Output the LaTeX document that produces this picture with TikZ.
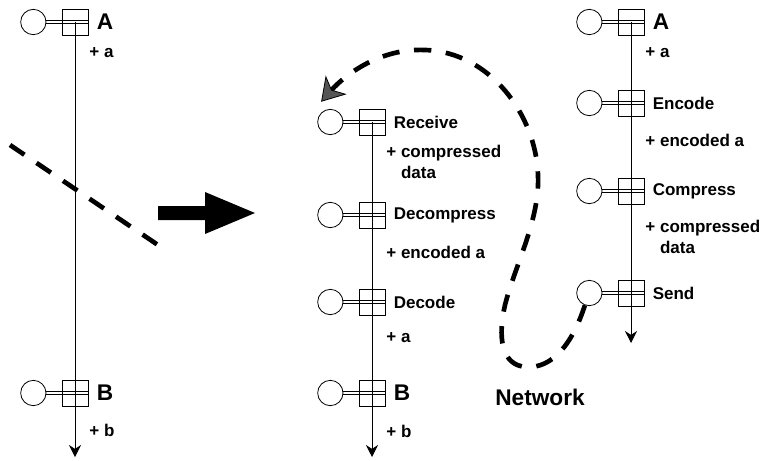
\documentclass[tikz,border=0pt]{standalone}
\usepackage{fontspec}
\setmainfont{Liberation Sans}
\usetikzlibrary{arrows.meta,calc,positioning}
\definecolor{tipgray}{RGB}{85,85,85}

\begin{document}
\begin{tikzpicture}[x=0.75pt,y=-0.75pt,>=Stealth,line width=0.6pt,node distance=5pt,
  obj/.style={circle,draw,minimum size=19pt,inner sep=0pt},
  ctrl/.style={rectangle,draw,minimum size=19.5pt,inner sep=0pt},
  linkup/.style={line width=0.5pt,transform canvas={yshift=0.95pt}},
  linkdown/.style={line width=0.5pt,transform canvas={yshift=-0.95pt}},
  life/.style={->,>={Stealth[length=9pt,width=9pt]}},
  act/.style={font=\fontsize{12.75}{15}\selectfont\bfseries,inner sep=1pt},
  role/.style={font=\fontsize{17}{20}\selectfont\bfseries,inner sep=1pt},
  msg/.style={font=\fontsize{12.75}{15.75}\selectfont\bfseries,inner sep=0pt,anchor=west,align=left},
  cut/.style={line width=3.5pt,dash pattern=on 13pt off 11pt},
  net/.style={cut,-{Stealth[length=17pt,width=21pt,inset=5pt,fill=tipgray,line width=0.6pt]}}]
  \useasboundingbox (0,0) rectangle (762,460);

  % elements: square, object circle on the left, double link
  \foreach \n/\x/\y in {LA/75/22,LB/75/393,
                        MR/372/122,MDc/372/215,MDd/372/302,MB/372/393,
                        RA/631/22,RE/631/103,RC/631/191,RS/631/293}{
    \node[ctrl] (\n) at (\x,\y) {};
    \node[obj,left=11.4pt of \n] (\n o) {};
    \draw[linkup] (\n o) -- (\n.east);
    \draw[linkdown] (\n o) -- (\n.east);
  }

  % names
  \node[role,right=of LA] {A};
  \node[role,right=of LB] {B};
  \node[act,right=of MR]  {Receive};
  \node[act,right=of MDc] {Decompress};
  \node[act,right=of MDd] {Decode};
  \node[role,right=of MB] {B};
  \node[role,right=of RA] {A};
  \node[act,right=of RE]  {Encode};
  \node[act,right=of RC]  {Compress};
  \node[act,right=of RS]  {Send};

  % data on the lifelines
  \node[msg] (la) at (89,53)   {+ a};
  \node[msg] (lb) at (89,430)  {+ b};
  \node[msg] (mc) at (386,162) {+ compressed\\\hphantom{+ }data};
  \node[msg] (me) at (386,252) {+ encoded a};
  \node[msg] (ma) at (386,338) {+ a};
  \node[msg] (mb) at (386,431) {+ b};
  \node[msg] (ra) at (645,53)  {+ a};
  \node[msg] (re) at (645,140) {+ encoded a};
  \node[msg] (rc) at (645,237) {+ compressed\\\hphantom{+ }data};

  % lifelines
  \coordinate (Lend) at (75,457);
  \coordinate (Mend) at (372,457);
  \coordinate (Rend) at (631,343);
  \draw[life] (LA.center) -- (Lend);
  \draw[life] (MR.center) -- (Mend);
  \draw[life] (RA.center) -- (Rend);

  % cut and split
  \draw[cut] (10,145) -- (158,245);
  \fill (158,206) -- (205,206) -- (205,192) -- (255,213) -- (205,234) -- (205,220) -- (158,220) -- cycle;

  % network
  \node[role] (nw) at (540,397) {Network};
  \coordinate (rtip) at ($(MRo.north west)+(0,-11)$);
  \draw[net] (RSo.-110) .. controls (572,345) and (552,368) .. (527,367)
    .. controls (500,366) and (498,335) .. (505,305)
    .. controls (515,265) and (540,220) .. (538,175)
    .. controls (536,115) and (490,52) .. (425,50)
    .. controls (380,48) and (345,75) .. (rtip);
\end{tikzpicture}
\end{document}
